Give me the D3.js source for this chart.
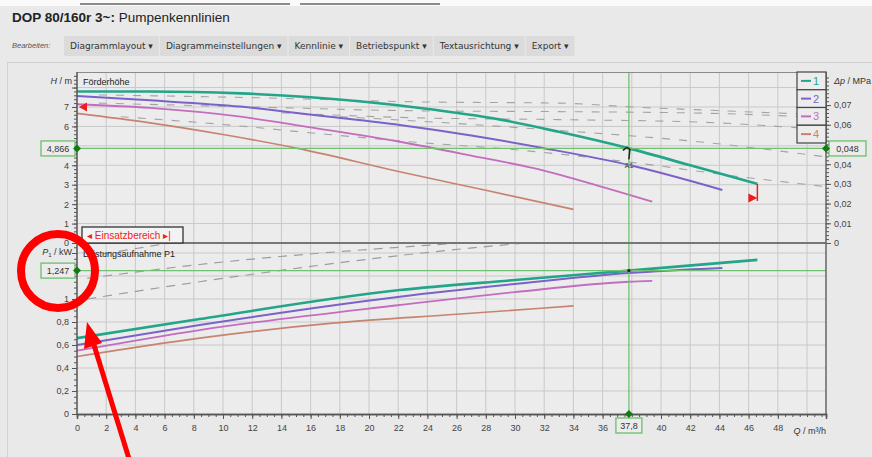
<!DOCTYPE html>
<html>
<head>
<meta charset="utf-8">
<script src="https://cdn.jsdelivr.net/npm/d3@7"></script>
<style>
  body { margin: 0; background: #e9e9e9; }
  svg { display: block; font-family: "Liberation Sans", Arial, sans-serif; }
</style>
</head>
<body>
<script>
// curve names + colours
var categories = ["1", "2", "3", "4"];
var colors = ["#23a58a", "#7a62c9", "#c46cc0", "#c7836f"];

// Förderhöhe H (m) over Q (m³/h)
var qH = [
  [0, 5, 11.2, 16, 23.5, 29, 33, 37.8, 42, 46.6],
  [0, 5, 11.2, 17, 22.1, 27, 31.9, 37.9, 44.2],
  [0, 5, 11.2, 16, 22.1, 27, 31.2, 35, 39.4],
  [0, 5, 10, 15.1, 22.1, 28, 34]
];
var hVals = [
  [7.8, 7.8, 7.7, 7.5, 6.95, 6.35, 5.72, 4.87, 4.0, 3.04],
  [7.56, 7.34, 7.02, 6.52, 6.07, 5.53, 4.89, 4.0, 2.73],
  [7.14, 6.95, 6.5, 5.95, 5.21, 4.5, 3.86, 3.1, 2.13],
  [6.67, 6.18, 5.58, 4.87, 3.67, 2.71, 1.73]
];

// Leistungsaufnahme P1 (kW) over Q
var qP = [
  [0, 8.4, 22.1, 30, 37.8, 46.6],
  [0, 8.4, 22.1, 30, 37.8, 44.2],
  [0, 8.4, 22.1, 30, 37.8, 39.4],
  [0, 8.4, 17.5, 26, 34]
];
var pVals = [
  [0.66, 0.826, 1.078, 1.165, 1.247, 1.34],
  [0.6, 0.774, 1.02, 1.13, 1.226, 1.27],
  [0.55, 0.73, 0.948, 1.06, 1.15, 1.157],
  [0.5, 0.66, 0.79, 0.867, 0.94]
];

// grey dashed curves (upper = H, lower = P1)
var dashQH = [
  [1.5, 12, 23.5, 33, 38, 42.7, 51.3],
  [1.5, 12, 23.5, 33, 43, 51.3],
  [14, 22.8, 33, 42.7, 51.3],
  [18, 25, 32.4, 37.2, 42.7, 51.3],
  [3, 10, 17, 23, 30, 38, 45, 51.3]
];
var dashH = [
  [7.62, 7.48, 7.26, 7.2, 7.0, 6.85, 6.59],
  [7.2, 7.0, 6.8, 6.76, 6.68, 6.45],
  [6.7, 6.45, 6.35, 6.22, 5.82],
  [6.5, 6.2, 5.82, 5.56, 5.2, 4.43],
  [6.5, 6.1, 5.6, 5.2, 4.8, 4.15, 3.45, 2.9]
];
var dashQP = [
  [0.7, 7],
  [0.7, 8.4, 26.7],
  [0.7, 8.4, 26.7, 31]
];
var dashP = [
  [1.37, 1.5],
  [1.18, 1.3, 1.49],
  [1.0, 1.15, 1.44, 1.49]
];

// operating point
var opQ = 37.8, opH = 4.866, opDp = 0.048, opP = 1.247;

var xTicks = d3.range(0, 49, 2);
var hTicks = [0, 1, 2, 3, 4, 5, 6, 7, 8];
var hLabels = [0, 1, 2, 3, 4, 6, 7];
var dpTicks = [0, 0.01, 0.02, 0.03, 0.04, 0.05, 0.06, 0.07];
var pTicks = [0, 0.2, 0.4, 0.6, 0.8, 1, 1.2, 1.4];
var pLabels = [0, 0.2, 0.4, 0.6, 0.8, 1];
var toolbarItems = ["Diagrammlayout", "Diagrammeinstellungen", "Kennlinie", "Betriebspunkt", "Textausrichtung", "Export"];

var W = 872, H = 457;
var pLeft = 77, pRight = 826, pTop = 72, pMid = 243, pBottom = 414;

var de = d3.formatLocale({decimal: ",", thousands: ".", grouping: [3], currency: ["", "€"]});
var fmt = de.format("~r");

var x = d3.scaleLinear().domain([0, 51.3]).range([pLeft, pRight]);
var yH = d3.scaleLinear().domain([0, 8.8]).range([pMid, pTop]);
var yDp = d3.scaleLinear().domain([0, 8.8 * opDp / opH]).range([pMid, pTop]);
var yP = d3.scaleLinear().domain([0, 1.487]).range([pBottom, pMid]);

var svg = d3.select("body").append("svg").attr("width", W).attr("height", H);

svg.append("rect").attr("width", W).attr("height", H).attr("fill", "#e9e9e9");
// screenshot strip at top
svg.append("rect").attr("width", W).attr("height", 6).attr("fill", "#fafafa");
svg.append("line").attr("x1", 80).attr("x2", 290).attr("y1", 4).attr("y2", 4).attr("stroke", "#8a8a8a").attr("stroke-width", 2);
svg.append("line").attr("x1", 300).attr("x2", 440).attr("y1", 4).attr("y2", 4).attr("stroke", "#8a8a8a").attr("stroke-width", 2);

// title
var title = svg.append("text").attr("x", 12).attr("y", 22).attr("font-size", 13.5).attr("fill", "#222");
title.append("tspan").attr("font-weight", "bold").text("DOP 80/160r 3~: ");
title.append("tspan").text("Pumpenkennlinien");

// toolbar
svg.append("text").attr("x", 12).attr("y", 48).attr("font-size", 7.5).attr("font-style", "italic").attr("fill", "#555").text("Bearbeiten:");
var bx = 64;
toolbarItems.forEach(function(t) {
  var g = svg.append("g");
  var txt = g.append("text").attr("x", bx + 6).attr("y", 48.5).attr("font-size", 9).attr("font-family", "DejaVu Sans, sans-serif").attr("fill", "#333").text(t + " \u25BE");
  var w = txt.node().getComputedTextLength() + 12;
  g.insert("rect", "text").attr("x", bx).attr("y", 36).attr("width", w).attr("height", 20).attr("fill", "#dbdbdb");
  bx += w + 1;
});
svg.append("line").attr("x1", 7).attr("x2", W).attr("y1", 62.5).attr("y2", 62.5).attr("stroke", "#d2d2d2");
svg.append("line").attr("x1", 7.5).attr("x2", 7.5).attr("y1", 62).attr("y2", H).attr("stroke", "#d2d2d2");

// plot background
svg.append("rect").attr("x", pLeft).attr("y", pTop).attr("width", pRight - pLeft).attr("height", pBottom - pTop).attr("fill", "#ececec");

var defs = svg.append("defs");
defs.append("clipPath").attr("id", "clipTop").append("rect").attr("x", pLeft).attr("y", pTop).attr("width", pRight - pLeft).attr("height", pMid - pTop);
defs.append("clipPath").attr("id", "clipBot").append("rect").attr("x", pLeft).attr("y", pMid).attr("width", pRight - pLeft).attr("height", pBottom - pMid);

// grid
var grid = svg.append("g").attr("stroke", "#c9c9c9").attr("stroke-width", 1);
grid.selectAll(".gx").data(d3.range(2, 51, 2)).join("line")
  .attr("x1", function(d) { return x(d); }).attr("x2", function(d) { return x(d); })
  .attr("y1", pTop).attr("y2", pBottom);
grid.selectAll(".gh").data(hTicks.slice(1)).join("line")
  .attr("x1", pLeft).attr("x2", pRight)
  .attr("y1", function(d) { return yH(d); }).attr("y2", function(d) { return yH(d); });
grid.selectAll(".gp").data(pTicks.slice(1)).join("line")
  .attr("x1", pLeft).attr("x2", pRight)
  .attr("y1", function(d) { return yP(d); }).attr("y2", function(d) { return yP(d); });

// dashed curves
var lineH = d3.line().x(function(d) { return x(d[0]); }).y(function(d) { return yH(d[1]); }).curve(d3.curveMonotoneX);
var lineP = d3.line().x(function(d) { return x(d[0]); }).y(function(d) { return yP(d[1]); }).curve(d3.curveMonotoneX);

var topG = svg.append("g").attr("clip-path", "url(#clipTop)");
var botG = svg.append("g").attr("clip-path", "url(#clipBot)");

dashQH.forEach(function(qs, i) {
  topG.append("path").attr("d", lineH(d3.zip(qs, dashH[i]))).attr("fill", "none")
    .attr("stroke", "#a3a3a3").attr("stroke-width", 1.1).attr("stroke-dasharray", "8,9");
});
dashQP.forEach(function(qs, i) {
  botG.append("path").attr("d", lineP(d3.zip(qs, dashP[i]))).attr("fill", "none")
    .attr("stroke", "#9d9d9d").attr("stroke-width", 1.2).attr("stroke-dasharray", "9,7");
});

// operating point lines
var green = "#72c172";
svg.append("line").attr("x1", x(opQ)).attr("x2", x(opQ)).attr("y1", pTop).attr("y2", pBottom).attr("stroke", green).attr("stroke-width", 1.3);
svg.append("line").attr("x1", pLeft).attr("x2", pRight).attr("y1", yH(opH)).attr("y2", yH(opH)).attr("stroke", green).attr("stroke-width", 1.3);
svg.append("line").attr("x1", pLeft).attr("x2", pRight).attr("y1", yP(opP)).attr("y2", yP(opP)).attr("stroke", green).attr("stroke-width", 1.3);

// pump curves
var widths = [2.6, 2, 1.8, 1.6];
for (var i = 3; i >= 0; i--) {
  topG.append("path").attr("d", lineH(d3.zip(qH[i], hVals[i]))).attr("fill", "none")
    .attr("stroke", colors[i]).attr("stroke-width", widths[i]);
  botG.append("path").attr("d", lineP(d3.zip(qP[i], pVals[i]))).attr("fill", "none")
    .attr("stroke", colors[i]).attr("stroke-width", widths[i]);
}

// operating point glyphs
var ox = x(opQ), oy = yH(opH);
svg.append("path").attr("d", "M" + (ox - 6) + "," + (oy + 2) + " L" + (ox - 2) + "," + (oy - 1) + " L" + (ox + 1) + "," + (oy + 1) + " L" + (ox) + "," + (oy + 11))
  .attr("fill", "none").attr("stroke", "#222").attr("stroke-width", 1.5);
svg.append("text").attr("x", ox).attr("y", yH(4.0) + 3).attr("text-anchor", "middle").attr("font-size", 7).attr("font-weight", "bold").attr("fill", "#666").text("A1");
svg.append("circle").attr("cx", ox).attr("cy", yP(opP)).attr("r", 1.6).attr("fill", "#222");

// red range markers
var red = "#ee1c1c";
svg.append("path").attr("d", "M" + (pLeft + 2) + "," + yH(7) + " l8,-4.5 l0,9 z").attr("fill", red);
var ex = x(qH[0][qH[0].length - 1]), ey = yH(hVals[0][hVals[0].length - 1]);
svg.append("path").attr("d", "M" + ex + "," + ey + " L" + ex + "," + (ey + 17)).attr("stroke", red).attr("stroke-width", 1.5);
svg.append("path").attr("d", "M" + ex + "," + (ey + 14) + " l-9,-4.5 l0,9 z").attr("fill", red);

// frame
svg.append("line").attr("x1", pLeft).attr("x2", pRight).attr("y1", pTop + 0.5).attr("y2", pTop + 0.5).attr("stroke", "#8a8a8a").attr("stroke-width", 1.2);
svg.append("line").attr("x1", pLeft).attr("x2", pRight).attr("y1", pMid).attr("y2", pMid).attr("stroke", "#777").attr("stroke-width", 1.8);
svg.append("line").attr("x1", pRight).attr("x2", pRight).attr("y1", pTop).attr("y2", pBottom).attr("stroke", "#666").attr("stroke-width", 1.5);

// axes
function styleAxis(g) {
  g.select(".domain").attr("stroke", "#555").attr("stroke-width", 1.5);
  g.selectAll(".tick line").attr("stroke", "#555");
  g.selectAll(".tick text").attr("fill", "#444").attr("font-size", 9).attr("font-family", "Liberation Sans, Arial, sans-serif");
}

var xMinor = svg.append("g").attr("transform", "translate(0," + pBottom + ")")
  .call(d3.axisBottom(x).tickValues(d3.range(0, 51.1, 0.5)).tickSize(3).tickFormat(""));
styleAxis(xMinor);
var xAxis = svg.append("g").attr("transform", "translate(0," + pBottom + ")")
  .call(d3.axisBottom(x).tickValues(xTicks).tickSize(5).tickPadding(6).tickFormat(fmt));
styleAxis(xAxis);
xAxis.selectAll(".tick").filter(function(d) { return d === 38; }).remove();

var hMinor = svg.append("g").attr("transform", "translate(" + pLeft + ",0)")
  .call(d3.axisLeft(yH).tickValues(d3.range(0, 8.7, 0.2)).tickSize(3).tickFormat(""));
styleAxis(hMinor);
var hAxis = svg.append("g").attr("transform", "translate(" + pLeft + ",0)")
  .call(d3.axisLeft(yH).tickValues(hTicks).tickSize(5).tickFormat(function(d) { return hLabels.indexOf(d) >= 0 ? fmt(d) : ""; }));
styleAxis(hAxis);
hAxis.select(".domain").remove();

var pMinor = svg.append("g").attr("transform", "translate(" + pLeft + ",0)")
  .call(d3.axisLeft(yP).tickValues(d3.range(0, 1.48, 0.05)).tickSize(3).tickFormat(""));
styleAxis(pMinor);
var pAxis = svg.append("g").attr("transform", "translate(" + pLeft + ",0)")
  .call(d3.axisLeft(yP).tickValues(pTicks).tickSize(5).tickFormat(function(d) { return pLabels.indexOf(d) >= 0 ? fmt(d) : ""; }));
styleAxis(pAxis);
svg.append("line").attr("x1", pLeft).attr("x2", pLeft).attr("y1", pTop).attr("y2", pBottom).attr("stroke", "#555").attr("stroke-width", 1.5);
hMinor.select(".domain").remove(); pMinor.select(".domain").remove(); pAxis.select(".domain").remove();

var dpMinor = svg.append("g").attr("transform", "translate(" + pRight + ",0)")
  .call(d3.axisRight(yDp).tickValues(d3.range(0, 0.086, 0.002)).tickSize(3).tickFormat(""));
styleAxis(dpMinor);
var dpAxis = svg.append("g").attr("transform", "translate(" + pRight + ",0)")
  .call(d3.axisRight(yDp).tickValues(dpTicks).tickSize(5).tickFormat(fmt));
styleAxis(dpAxis);
dpMinor.select(".domain").remove(); dpAxis.select(".domain").remove();

// axis titles
function axTitle(xp, yp, anchor, italicPart, rest) {
  var t = svg.append("text").attr("x", xp).attr("y", yp).attr("text-anchor", anchor).attr("font-size", 9).attr("fill", "#333");
  t.append("tspan").attr("font-style", "italic").text(italicPart);
  t.append("tspan").text(rest);
  return t;
}
axTitle(72, 84, "end", "H", " / m");
var pt = svg.append("text").attr("x", 72).attr("y", 255).attr("text-anchor", "end").attr("font-size", 9).attr("fill", "#333");
pt.append("tspan").attr("font-style", "italic").text("P");
pt.append("tspan").attr("font-size", 6).attr("dy", 2).text("1");
pt.append("tspan").attr("dy", -2).text(" / kW");
axTitle(834, 84, "start", "\u0394p", " / MPa");
axTitle(826, 434, "end", "Q", " / m\u00B3/h");
svg.append("text").attr("x", 83).attr("y", 85).attr("font-size", 9).attr("fill", "#222").text("Förderhöhe");
svg.append("text").attr("x", 83).attr("y", 257).attr("font-size", 9).attr("fill", "#222").text("Leistungsaufnahme P1");

// legend
var lg = svg.append("g");
var rowH = 17.75, lx = 797, lw = 29;
categories.forEach(function(c, i) {
  var yy = pTop + i * rowH;
  lg.append("rect").attr("x", lx).attr("y", yy).attr("width", lw).attr("height", rowH).attr("fill", "#ececec").attr("stroke", "#444").attr("stroke-width", 1.2);
  lg.append("line").attr("x1", lx + 4).attr("x2", lx + 14).attr("y1", yy + rowH / 2).attr("y2", yy + rowH / 2).attr("stroke", colors[i]).attr("stroke-width", 2);
  lg.append("text").attr("x", lx + 16).attr("y", yy + rowH / 2 + 4).attr("font-size", 11).attr("fill", colors[i]).text(c);
});

// value boxes
function valueBox(cx, cy, w, txt) {
  svg.append("rect").attr("x", cx).attr("y", cy - 7.5).attr("width", w).attr("height", 15)
    .attr("fill", "#ececec").attr("stroke", "#6cbf6c").attr("stroke-width", 1.3);
  svg.append("text").attr("x", cx + w / 2).attr("y", cy + 3.5).attr("text-anchor", "middle").attr("font-size", 9).attr("fill", "#333").text(txt);
}
valueBox(41, yH(opH), 34, fmt(opH));
valueBox(829, yH(opH), 37, fmt(opDp));
valueBox(41, yP(opP), 34, fmt(opP));
svg.append("rect").attr("x", ox - 13).attr("y", 418).attr("width", 26).attr("height", 15).attr("fill", "#ececec").attr("stroke", "#6cbf6c").attr("stroke-width", 1.3);
svg.append("text").attr("x", ox).attr("y", 429).attr("text-anchor", "middle").attr("font-size", 9).attr("fill", "#333").text(fmt(opQ));

var dg = "#137a13";
[[pLeft, yH(opH)], [pRight, yH(opH)], [pLeft, yP(opP)], [ox, pBottom]].forEach(function(p) {
  svg.append("path").attr("d", "M" + p[0] + "," + (p[1] - 4) + " l4,4 l-4,4 l-4,-4 z").attr("fill", dg);
});

// Einsatzbereich box
svg.append("rect").attr("x", 82).attr("y", 227).attr("width", 101).attr("height", 16).attr("fill", "#f3f3f3").attr("stroke", "#333").attr("stroke-width", 1.3);
svg.append("text").attr("x", 87).attr("y", 239).attr("font-size", 10).attr("fill", red).text("\u25C2 Einsatzbereich \u25B8|");

// red annotation: circle + arrow
svg.append("ellipse").attr("cx", 58).attr("cy", 271).attr("rx", 37).attr("ry", 37)
  .attr("fill", "none").attr("stroke", "#ff0000").attr("stroke-width", 8);
svg.append("line").attr("x1", 130).attr("y1", 462).attr("x2", 94).attr("y2", 345)
  .attr("stroke", "#ff0000").attr("stroke-width", 5);
svg.append("path").attr("d", "M87,322 L102,343 L84,349 Z").attr("fill", "#ff0000");
</script>
</body>
</html>
